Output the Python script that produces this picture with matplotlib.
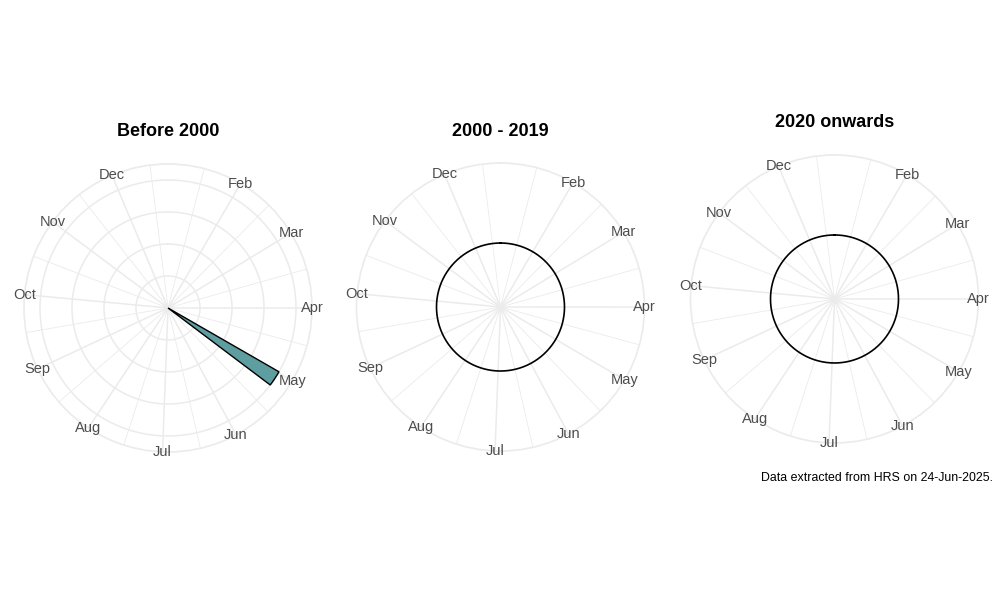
import matplotlib.pyplot as plt
import numpy as np

plt.rcParams['font.family'] = ['Liberation Sans', 'DejaVu Sans']

# panels and their data (day of year of each weekly bin, count per bin)
periods = ['Before 2000', '2000 - 2019', '2020 onwards']
bin_doy = [[124], [], []]
bin_count = [[1], [], []]
bin_width_days = 7

month_labels = ['Feb', 'Mar', 'Apr', 'May', 'Jun', 'Jul', 'Aug', 'Sep', 'Oct', 'Nov', 'Dec']
month_start_doy = [32, 60, 91, 121, 152, 182, 213, 244, 274, 305, 335]
minor_doy = [16.5, 46, 75.5, 106, 136.5, 167, 197.5, 228.5, 259, 289.5, 320, 350.5]
rad_breaks = [0.25, 0.5, 0.75, 1.0]

x_lo, x_hi = 2.1, 357.6

def to_theta(d):
    return (np.asarray(d, dtype=float) - x_lo) / (x_hi - x_lo) * 2 * np.pi

fig = plt.figure(figsize=(10, 6), dpi=100)

# axes boxes in figure fraction (centre x, centre y)
centres = [(0.168, 0.4867), (0.5005, 0.4883), (0.8345, 0.5017)]
w, h = 0.288, 0.48
grid_col = '#EBEBEB'
full = np.linspace(0, 2 * np.pi, 500)

for i, title in enumerate(periods):
    cx, cy = centres[i]
    ax = fig.add_axes([cx - w / 2, cy - h / 2, w, h], projection='polar')
    ax.set_theta_zero_location('N')
    ax.set_theta_direction(-1)
    ax.set_xticks([])
    ax.set_yticks([])
    ax.grid(False)
    ax.spines['polar'].set_color(grid_col)
    ax.spines['polar'].set_linewidth(1.2)

    counts = bin_count[i]
    if counts:
        rmin, rmax = 0.0, float(max(counts))
    else:
        rmin, rmax = -0.5, 0.5
    router = rmin + (rmax - rmin) * 1.125
    ax.set_ylim(rmin, router)

    # theta grid
    for d in minor_doy:
        t = to_theta(d)
        ax.plot([t, t], [rmin, router], color=grid_col, lw=0.6, zorder=1)
    for d in month_start_doy:
        t = to_theta(d)
        ax.plot([t, t], [rmin, router], color=grid_col, lw=1.1, zorder=1)
    # radial grid
    if counts:
        for r in rad_breaks:
            ax.plot(full, np.full_like(full, r), color=grid_col, lw=1.1, zorder=1)

    if counts:
        ax.bar(to_theta(bin_doy[i]), counts, width=to_theta(bin_width_days) - to_theta(0),
               bottom=0, color='#5F9EA0', edgecolor='black', linewidth=1.0, zorder=3)
    else:
        ax.plot(full, np.zeros_like(full), color='black', lw=1.2, zorder=3)

    for lab, d in zip(month_labels, month_start_doy):
        ax.text(to_theta(d), router, lab, ha='center', va='center', fontsize=10.5,
                color='#4D4D4D', zorder=5)

    ax.text(0.5, 1 + 32 / 288, title, transform=ax.transAxes, ha='center', va='center',
            fontsize=13, fontweight='bold', color='black')

fig.text(0.993, 1 - 478 / 600, 'Data extracted from HRS on 24-Jun-2025.', ha='right',
         va='center', fontsize=8.9, color='black')

fig.savefig('out.png', dpi=100, facecolor='white')
